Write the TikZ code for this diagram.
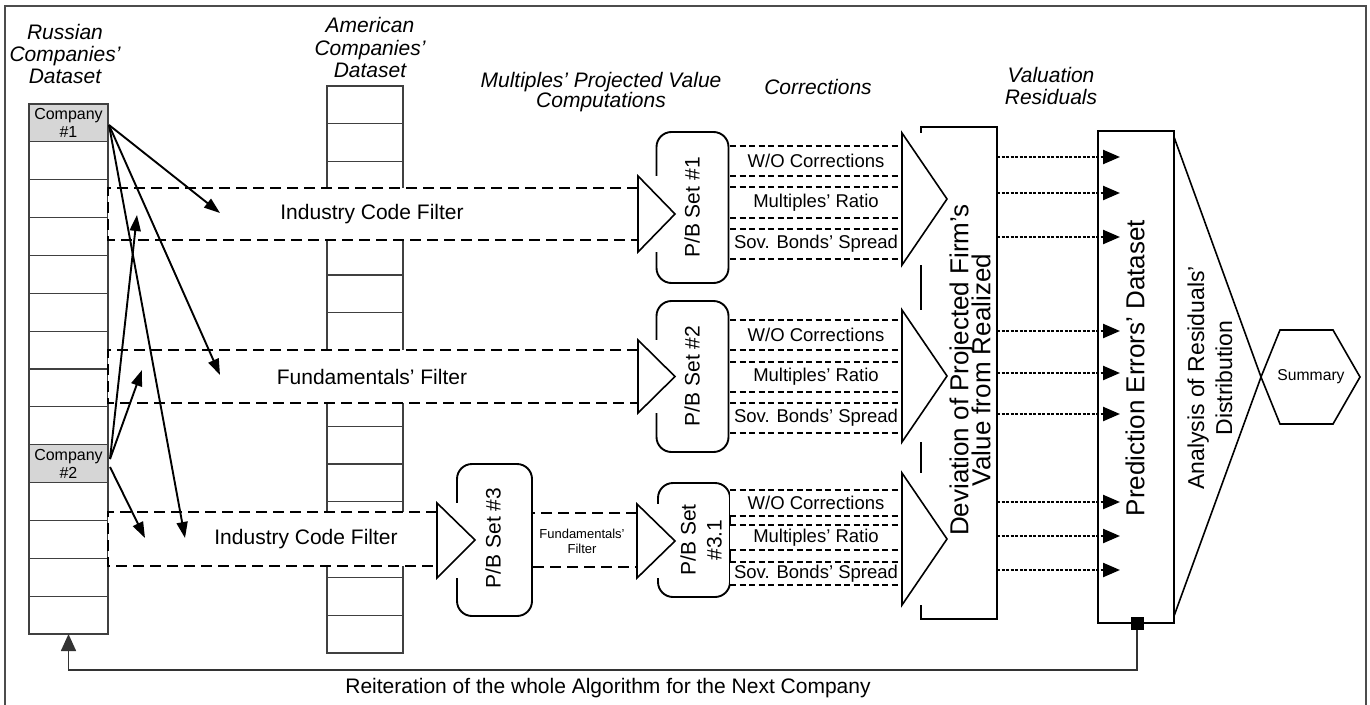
\documentclass[tikz,border=0pt]{standalone}
\usepackage{fontspec}
\setmainfont{Liberation Sans}
\usetikzlibrary{arrows.meta}
\newcommand\fsz[2]{\fontsize{#1}{#2}\selectfont}
\lineskiplimit=-40pt
\newcommand\corrstrip[4]{% name, centre y, height, text
  \node[strip, minimum height=#3] (#1) at (816,#2) {#4};
  \draw[corrline] (#1.north west) -- (#1.north east) (#1.south west) -- (#1.south east);
}
\begin{document}
\begin{tikzpicture}[x=1pt,y=-1pt,
  every node/.style={inner sep=0pt, outer sep=0pt},
  frameline/.style={draw=black!70, line width=1.2},
  rcell/.style={draw=black!75, line width=1.2, fill=white, minimum width=79, minimum height=37.86},
  acell/.style={draw=black!75, line width=1.2, fill=white, minimum width=76, minimum height=37.8},
  company/.style={rcell, fill=black!16, align=center, font=\fsz{16}{18}},
  header/.style={align=center, font=\fsz{21}{22}\itshape},
  pbbox/.style={draw, line width=1.9, rounded corners=15pt, fill=white},
  pblabel/.style={rotate=90, align=center, font=\fsz{21}{26}},
  filterbox/.style={draw, line width=2.7, dash pattern=on 11pt off 6pt, fill=white},
  filterlabel/.style={font=\fsz{21}{24}},
  headtri/.style={draw, line width=1.6, fill=white, line join=miter},
  strip/.style={fill=white, minimum width=172, font=\fsz{18.5}{20}},
  corrline/.style={line width=2.4, dash pattern=on 6pt off 3.5pt},
  bigbox/.style={draw, line width=1.8, fill=white, minimum width=76, minimum height=492},
  resarrow/.style={line width=2.3, dash pattern=on 3pt off 1.5pt, -{Triangle[length=17pt,width=14pt]}},
  comparrow/.style={line width=1.9, -{Triangle[length=16pt,width=11pt]}},
  fbline/.style={draw=black!80, line width=1.7, -{Triangle[length=17pt,width=15pt]}}
]
\useasboundingbox (0,0) rectangle (1370,704);

% outer frame
\draw[frameline] (5,705) -- (5,6) -- (1366,6) -- (1366,705);

% American dataset column
\foreach \i in {0,...,14}
  \node[acell] (a\i) at (365,{86+37.8*(\i+0.5)}) {};
% Russian dataset column
\foreach \i in {0,...,13}
  \node[rcell] (r\i) at (68.5,{104+37.86*(\i+0.5)}) {};
\node[company] (comp1) at (r0) {Company\\\#1};
\node[company] (comp2) at (r9) {Company\\\#2};

% column headings
\node[header] (hrus) at (65,54) {Russian\\Companies'\\Dataset};
\node[header, font=\fsz{21}{22.5}\itshape] (hame) at (370,47.5) {American\\Companies'\\Dataset};
\node[header, font=\fsz{21}{20}\itshape] (hmul) at (601,92) {Multiples' Projected Value\\Computations};
\node[header] (hcor) at (818,87) {Corrections};
\node[header] (hval) at (1051,86) {Valuation\\Residuals};

% P/B sets
\node[pbbox, minimum width=72, minimum height=151] (pb1) at (692.5,207.5) {};
\node[pbbox, minimum width=72, minimum height=151] (pb2) at (692.5,376.5) {};
\node[pbbox, minimum width=75, minimum height=152] (pb3) at (494.5,540) {};
\node[pbbox, minimum width=72, minimum height=114] (pb31) at (694,540) {};

% filter 1
\draw[filterbox] (638,188) -- (108,188) -- (108,240) -- (638,240);
\fill[white] (639,176) rectangle (661,252);
\draw[headtri] (638,176) -- (675,214) -- (638,252) -- cycle;
\node[filterlabel] (flt1) at (372,214) {Industry Code Filter};
% filter 2
\draw[filterbox] (638,350) -- (108,350) -- (108,403) -- (638,403);
\fill[white] (639,340) rectangle (661,413);
\draw[headtri] (638,340) -- (675,376.5) -- (638,413) -- cycle;
\node[filterlabel] (flt2) at (372,376.5) {Fundamentals' Filter};
% filter 3
\draw[filterbox] (437,512) -- (108,512) -- (108,566) -- (437,566);
\fill[white] (438,503) rectangle (461,578);
\draw[headtri] (437,503) -- (475,540) -- (437,578) -- cycle;
\node[filterlabel] (flt3) at (306,539) {Industry Code Filter};
% second-stage filter
\draw[filterbox] (637,513) -- (533,513) (533,567) -- (637,567);
\fill[white] (638,504) rectangle (661,578);
\draw[headtri] (637,504) -- (675,541) -- (637,578) -- cycle;
\node[align=center, font=\fsz{13}{15}] (flt4) at (582,541) {Fundamentals'\\Filter};

% P/B labels
\node[pblabel] (pb1t) at (692,207.5) {P/B Set \#1};
\node[pblabel] (pb2t) at (692,376) {P/B Set \#2};
\node[pblabel] (pb3t) at (493,538) {P/B Set \#3};
\node[pblabel] (pb31t) at (701,540) {P/B Set\\\#3.1};

% corrections
\corrstrip{c11}{161}{30}{W/O Corrections}
\corrstrip{c12}{202.5}{31}{Multiples' Ratio}
\corrstrip{c13}{244}{30}{Sov. Bonds' Spread}
\corrstrip{c21}{335}{30}{W/O Corrections}
\corrstrip{c22}{377}{30}{Multiples' Ratio}
\corrstrip{c23}{418}{30}{Sov. Bonds' Spread}
\corrstrip{c31}{503}{26}{W/O Corrections}
\corrstrip{c32}{537.5}{25}{Multiples' Ratio}
\corrstrip{c33}{573.5}{23}{Sov. Bonds' Spread}

% deviation block
\node[bigbox] (dev) at (959,373) {};
\fill[white] (904,133) rectangle (924,265);
\fill[white] (904,310) rectangle (924,442);
\fill[white] (904,473) rectangle (924,605);
\draw[headtri] (902,133) -- (947,199) -- (902,265) -- cycle;
\draw[headtri] (902,310) -- (947,376) -- (902,442) -- cycle;
\draw[headtri] (902,473) -- (947,539) -- (902,605) -- cycle;
\node[rotate=90, align=center, font=\fsz{26}{22}] (devt) at (970,370)
  {Deviation of Projected Firm's\\Value from Realized};

% prediction errors
\node[bigbox] (pred) at (1136,377) {};
\node[rotate=90, font=\fsz{26}{28}] (predt) at (1135,368) {Prediction Errors' Dataset};
\foreach \y in {157,193,237,331,373,414,502,536,570}
  \draw[resarrow] (dev.east |- 0,\y) -- ([xshift=22pt]pred.west |- 0,\y);

% analysis of residuals
\draw[line width=1.6, line join=miter] (1174,137) -- (1261,377) -- (1174,616);
\node[rotate=90, align=center, font=\fsz{23}{28}] (anat) at (1210,378)
  {Analysis of Residuals'\\Distribution};

% summary
\draw[line width=1.6] (1261,377) -- (1280,330) -- (1333,330) -- (1360,377)
  -- (1333,424) -- (1280,424) -- cycle;
\node[font=\fsz{15.7}{18}] (summ) at (1311,377) {Summary};

% company links
\coordinate (c1src) at (109,125);
\coordinate (c2up) at (110,459);
\coordinate (c2dn) at (110,467);
\coordinate (f1a) at (220,213);
\coordinate (f2a) at (220,375);
\coordinate (f3a) at (185,538);
\coordinate (f1b) at (137,215);
\coordinate (f2b) at (142,370);
\coordinate (f3b) at (145,538);
\draw[comparrow] (c1src) -- (f1a);
\draw[comparrow] (c1src) -- (f2a);
\draw[comparrow] (c1src) -- (f3a);
\draw[comparrow] (c2up) -- (f1b);
\draw[comparrow] (c2up) -- (f2b);
\draw[comparrow] (c2dn) -- (f3b);

% feedback loop
\node[fill=black, minimum size=13] (sq) at (1137,623) {};
\coordinate (fbturn) at (1137,670);
\draw[fbline] (sq.south) -- (fbturn) -| (r13.south);
\node[font=\fsz{21}{24}] (reit) at (608,688) {Reiteration of the whole Algorithm for the Next Company};
\end{tikzpicture}
\end{document}
